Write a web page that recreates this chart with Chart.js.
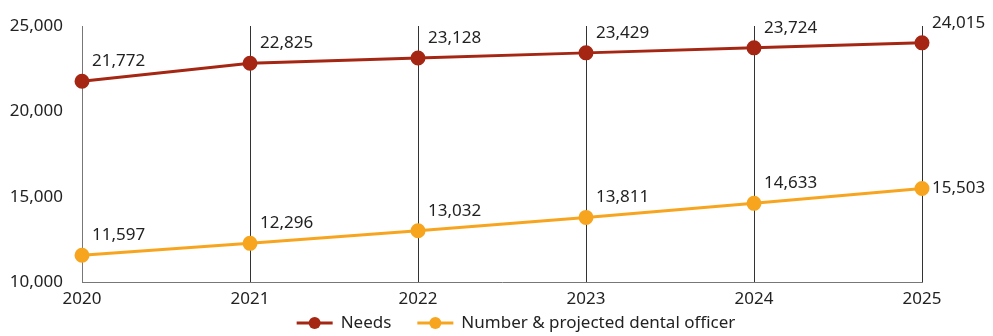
<!DOCTYPE html>
<html>
<head>
<meta charset="utf-8">
<script src="https://cdn.jsdelivr.net/npm/chart.js@4.4.1/dist/chart.umd.min.js"></script>
<style>
  html, body { margin: 0; padding: 0; background: #fff; }
  #wrap { width: 993px; height: 336px; position: relative; }
</style>
</head>
<body>
<div id="wrap"><canvas id="dentalChart"></canvas></div>
<script>
const years = ['2020', '2021', '2022', '2023', '2024', '2025'];
const needs = [21772, 22825, 23128, 23429, 23724, 24015];
const officers = [11597, 12296, 13032, 13811, 14633, 15503];

const RED = '#A52612';
const ORANGE = '#F7A51F';
const FONT = "'Noto Sans', sans-serif";

// value labels next to each point
const valueLabels = {
  id: 'valueLabels',
  afterDatasetsDraw(chart) {
    const ctx = chart.ctx;
    ctx.save();
    ctx.font = '17px ' + FONT;
    ctx.fillStyle = '#222';
    ctx.textAlign = 'left';
    ctx.textBaseline = 'middle';
    chart.data.datasets.forEach((ds, i) => {
      const meta = chart.getDatasetMeta(i);
      meta.data.forEach((pt, j) => {
        const last = j === meta.data.length - 1;
        const dy = (i === 1 && last) ? 0 : -20;
        ctx.fillText(ds.data[j].toLocaleString('en-US'), pt.x + 10, pt.y + dy);
      });
    });
    ctx.restore();
  }
};

// bottom legend: line with a dot, then the series name
const lineLegend = {
  id: 'lineLegend',
  afterDraw(chart) {
    const ctx = chart.ctx;
    const y = chart.height - 13;
    const mark = 36, gap = 8, spacing = 26;
    ctx.save();
    ctx.font = '17px ' + FONT;
    const items = chart.data.datasets.map(ds => ({
      color: ds.borderColor, text: ds.label, w: ctx.measureText(ds.label).width
    }));
    const total = items.reduce((s, it) => s + mark + gap + it.w, 0) + spacing * (items.length - 1);
    let x = 516 - total / 2;
    items.forEach(it => {
      ctx.strokeStyle = it.color;
      ctx.lineWidth = 3;
      ctx.beginPath(); ctx.moveTo(x, y); ctx.lineTo(x + mark, y); ctx.stroke();
      ctx.fillStyle = it.color;
      ctx.beginPath(); ctx.arc(x + mark / 2, y, 6, 0, Math.PI * 2); ctx.fill();
      ctx.fillStyle = '#222';
      ctx.textBaseline = 'middle';
      ctx.fillText(it.text, x + mark + gap, y);
      x += mark + gap + it.w + spacing;
    });
    ctx.restore();
  }
};

new Chart(document.getElementById('dentalChart'), {
  type: 'line',
  data: {
    labels: years,
    datasets: [
      {
        label: 'Needs',
        data: needs,
        borderColor: RED,
        backgroundColor: RED,
        borderWidth: 3,
        pointRadius: 6,
        pointHoverRadius: 6,
        tension: 0
      },
      {
        label: 'Number & projected dental officer',
        data: officers,
        borderColor: ORANGE,
        backgroundColor: ORANGE,
        borderWidth: 3,
        pointRadius: 6,
        pointHoverRadius: 6,
        tension: 0
      }
    ]
  },
  options: {
    responsive: true,
    maintainAspectRatio: false,
    animation: false,
    layout: { padding: { left: 10, right: 71, top: 26, bottom: 21 } },
    scales: {
      x: {
        offset: false,
        grid: { color: '#333', lineWidth: 1, drawTicks: false },
        border: { color: '#777', width: 1 },
        ticks: { color: '#222', font: { family: FONT, size: 17 }, padding: 6, maxRotation: 0 }
      },
      y: {
        min: 10000,
        max: 25000,
        grid: { display: false, drawTicks: false },
        border: { color: '#777', width: 1 },
        afterFit(scale) {
          scale.width = 72;
          scale.paddingTop = 0;
          scale.paddingBottom = 0;
        },
        ticks: {
          stepSize: 5000,
          color: '#222',
          padding: 19,
          font: { family: FONT, size: 17 },
          callback: v => v.toLocaleString('en-US')
        }
      }
    },
    plugins: {
      tooltip: { enabled: false },
      legend: { display: false }
    }
  },
  plugins: [valueLabels, lineLegend]
});
</script>
</body>
</html>
